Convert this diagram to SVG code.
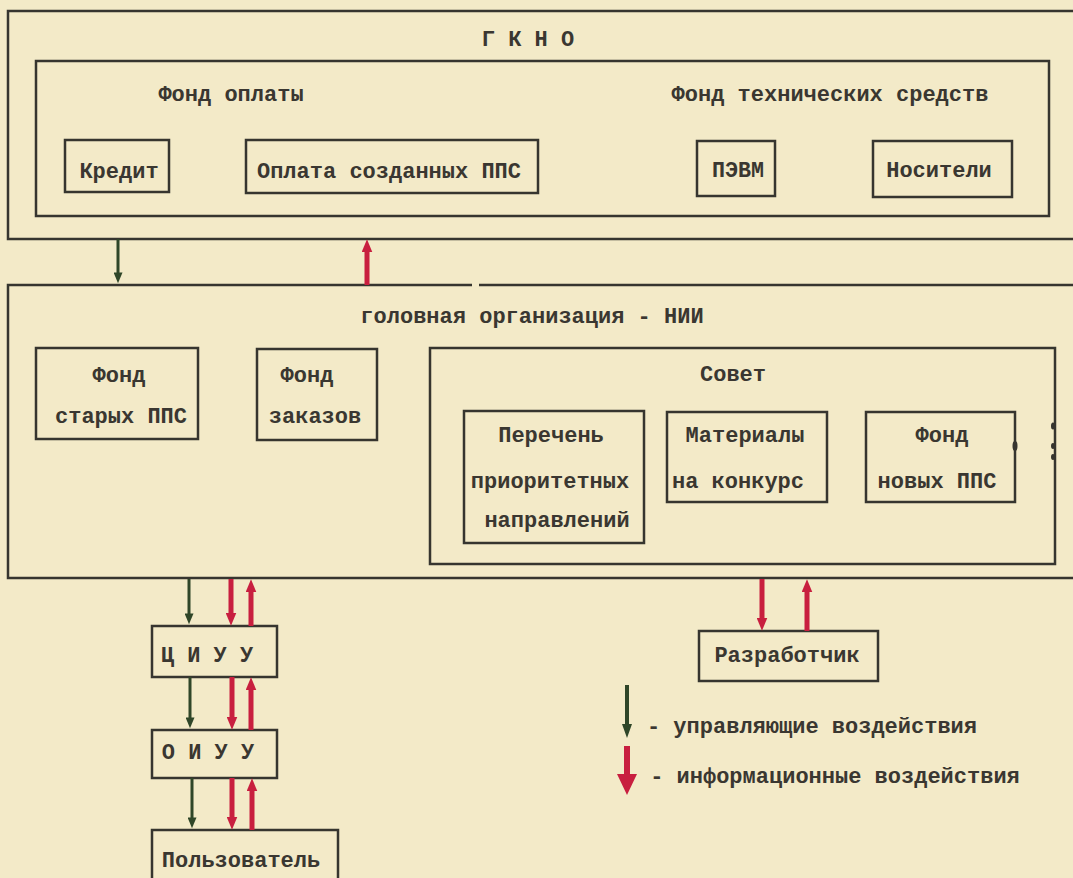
<svg xmlns="http://www.w3.org/2000/svg" width="1073" height="878" viewBox="0 0 1073 878">
<defs>
<style>
.bx{fill:none;stroke:#36352f;stroke-width:2.5}
.t{font-family:"Liberation Mono","DejaVu Sans Mono",monospace;font-size:22px;font-weight:bold;fill:#3a3731;text-anchor:middle}
.g{stroke:#2f4628;stroke-width:3;fill:none}
.r{stroke:#c81f3f;stroke-width:5;fill:none}
</style>
<marker id="mg" viewBox="0 0 12 10" refX="4" refY="5" markerWidth="12" markerHeight="9" markerUnits="userSpaceOnUse" orient="auto"><path d="M0,0 L12,5 L0,10 z" fill="#2f4628"/></marker>
<marker id="mr" viewBox="0 0 12 10" refX="4" refY="5" markerWidth="13" markerHeight="11" markerUnits="userSpaceOnUse" orient="auto"><path d="M0,0 L12,5 L0,10 z" fill="#c81f3f"/></marker>
</defs>
<rect width="1073" height="878" fill="#f3eac8"/>

<g id="gkno">
<rect class="bx" x="8" y="11" width="1090" height="228"/>
<text class="t" x="528" y="46">Г К Н О</text>
</g>
<g id="fond-group">
<rect class="bx" x="36" y="61" width="1013" height="155"/>
<text class="t" x="231" y="101">Фонд оплаты</text>
<text class="t" x="830" y="101">Фонд технических средств</text>
</g>
<g id="kredit"><rect class="bx" x="65" y="140" width="104" height="52"/><text class="t" x="119" y="178">Кредит</text></g>
<g id="oplata"><rect class="bx" x="246" y="140" width="292" height="53"/><text class="t" x="389" y="178">Оплата созданных ППС</text></g>
<g id="pevm"><rect class="bx" x="697" y="141" width="78" height="55"/><text class="t" x="738" y="177" textLength="52" lengthAdjust="spacingAndGlyphs">ПЭВМ</text></g>
<g id="nositeli"><rect class="bx" x="873" y="141" width="139" height="56"/><text class="t" x="939" y="177">Носители</text></g>

<g id="nii">
<path class="bx" d="M472,285 L8,285 L8,578 L1090,578 L1090,285 L479,285"/>
<text class="t" x="532" y="323">головная организация - НИИ</text>
</g>
<g id="fond-old"><rect class="bx" x="36" y="348" width="162" height="91"/><text class="t" x="119" y="382">Фонд</text><text class="t" x="121" y="423">старых ППС</text></g>
<g id="fond-orders"><rect class="bx" x="257" y="349" width="120" height="91"/><text class="t" x="307" y="382">Фонд</text><text class="t" x="315" y="423">заказов</text></g>
<g id="sovet">
<rect class="bx" x="430" y="348" width="625" height="216"/>
<text class="t" x="733" y="381">Совет</text>
<ellipse cx="1053" cy="426" rx="2" ry="3.5" fill="#36352f"/>
<ellipse cx="1053" cy="446" rx="2" ry="3" fill="#36352f"/>
<ellipse cx="1053" cy="457" rx="2" ry="3" fill="#36352f"/>
</g>
<g id="perechen"><rect class="bx" x="464" y="411" width="180" height="132"/><text class="t" x="551" y="442">Перечень</text><text class="t" x="550" y="488">приоритетных</text><text class="t" x="557" y="527">направлений</text></g>
<g id="materialy"><rect class="bx" x="667" y="412" width="160" height="90"/><text class="t" x="745" y="442">Материалы</text><text class="t" x="738" y="488">на конкурс</text></g>
<g id="fond-new"><rect class="bx" x="866" y="412" width="149" height="90"/><text class="t" x="942" y="442">Фонд</text><text class="t" x="937" y="488">новых ППС</text>
<ellipse cx="1015" cy="446" rx="2.5" ry="5" fill="#36352f"/></g>

<g id="ciuu"><rect class="bx" x="152" y="626" width="125" height="51"/><text class="t" x="207" y="662">Ц И У У</text></g>
<g id="oiuu"><rect class="bx" x="152" y="730" width="125" height="48"/><text class="t" x="208" y="759">О И У У</text></g>
<g id="user"><rect class="bx" x="152" y="830" width="186" height="60"/><text class="t" x="241" y="867">Пользователь</text></g>
<g id="developer"><rect class="bx" x="699" y="631" width="179" height="50"/><text class="t" x="787" y="662">Разработчик</text></g>

<g id="connectors">
<line class="g" x1="118" y1="239" x2="118" y2="276" marker-end="url(#mg)"/>
<line class="r" x1="367" y1="285" x2="367" y2="248" marker-end="url(#mr)"/>
<line class="g" x1="189" y1="579" x2="189" y2="617" marker-end="url(#mg)"/>
<line class="r" x1="231" y1="579" x2="231" y2="617" marker-end="url(#mr)"/>
<line class="r" x1="251" y1="626" x2="251" y2="588" marker-end="url(#mr)"/>
<line class="g" x1="190" y1="677" x2="190" y2="721" marker-end="url(#mg)"/>
<line class="r" x1="232" y1="677" x2="232" y2="721" marker-end="url(#mr)"/>
<line class="r" x1="251" y1="730" x2="251" y2="686" marker-end="url(#mr)"/>
<line class="g" x1="192" y1="778" x2="192" y2="821" marker-end="url(#mg)"/>
<line class="r" x1="232" y1="778" x2="232" y2="821" marker-end="url(#mr)"/>
<line class="r" x1="252" y1="830" x2="252" y2="787" marker-end="url(#mr)"/>
<line class="r" x1="762" y1="579" x2="762" y2="622" marker-end="url(#mr)"/>
<line class="r" x1="807" y1="631" x2="807" y2="588" marker-end="url(#mr)"/>
</g>

<g id="legend">
<path d="M625,685 L629,685 L629,724 L632,724 L627,738 L622,724 L625,724 z" fill="#2f4628"/>
<path d="M624,746 L630,746 L630,774 L637,774 L627,795 L617,774 L624,774 z" fill="#c81f3f"/>
<text class="t" x="812" y="733">- управляющие воздействия</text>
<text class="t" x="835" y="783">- информационные воздействия</text>
</g>
</svg>
